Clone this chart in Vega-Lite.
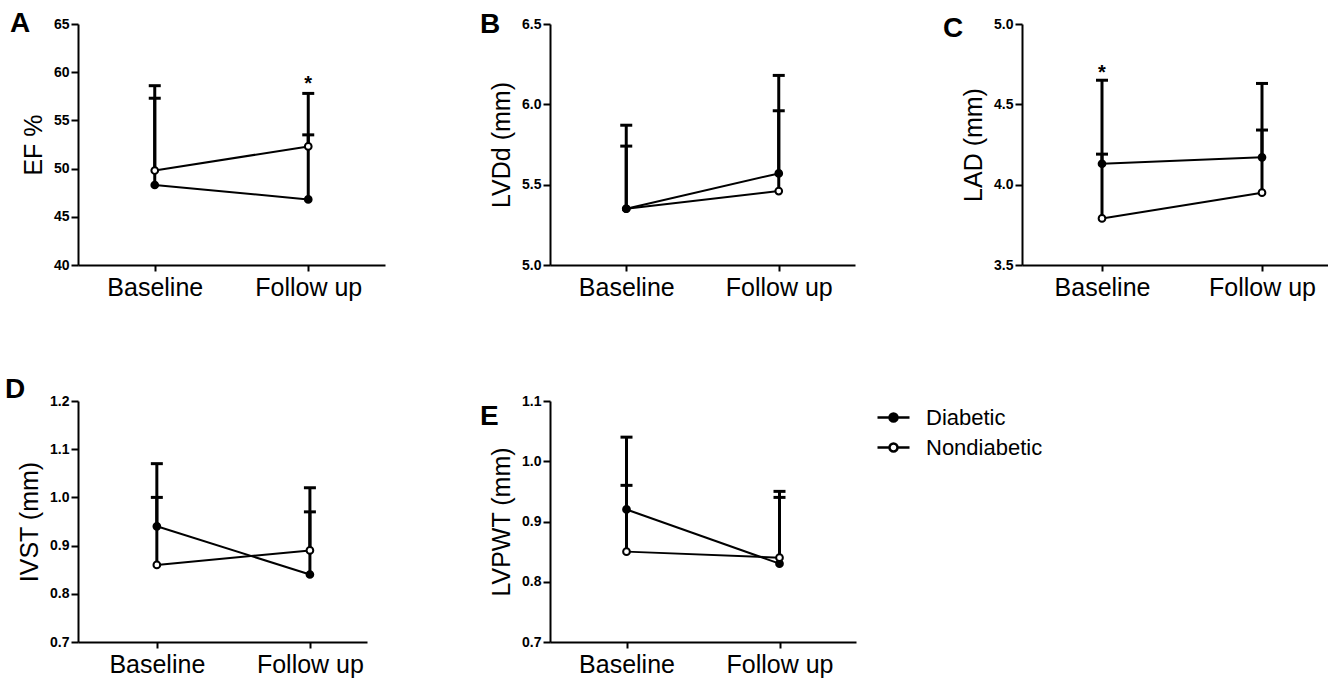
{
  "$schema": "https://vega.github.io/schema/vega-lite/v6.json",
  "background": "white",
  "padding": {"left": 5, "top": 10, "right": 5, "bottom": 3},
  "columns": 3,
  "spacing": {"row": 136, "column": 152},
  "bounds": "flush",
  "align": "all",
  "resolve": {"scale": {"fill": "independent"}, "legend": {"fill": "independent"}},
  "datasets": {
    "main": [
      {"panel": "A", "group": "Diabetic", "time": "Baseline", "mean": 48.3, "upper": 57.3},
      {"panel": "A", "group": "Diabetic", "time": "Follow up", "mean": 46.8, "upper": 53.5},
      {"panel": "A", "group": "Nondiabetic", "time": "Baseline", "mean": 49.8, "upper": 58.6},
      {"panel": "A", "group": "Nondiabetic", "time": "Follow up", "mean": 52.3, "upper": 57.8, "star": 58.2},
      {"panel": "B", "group": "Nondiabetic", "time": "Baseline", "mean": 5.35, "upper": 5.74},
      {"panel": "B", "group": "Nondiabetic", "time": "Follow up", "mean": 5.46, "upper": 5.96},
      {"panel": "B", "group": "Diabetic", "time": "Baseline", "mean": 5.35, "upper": 5.87},
      {"panel": "B", "group": "Diabetic", "time": "Follow up", "mean": 5.57, "upper": 6.18},
      {"panel": "C", "group": "Diabetic", "time": "Baseline", "mean": 4.13, "upper": 4.65, "star": 4.66},
      {"panel": "C", "group": "Diabetic", "time": "Follow up", "mean": 4.17, "upper": 4.63},
      {"panel": "C", "group": "Nondiabetic", "time": "Baseline", "mean": 3.79, "upper": 4.19},
      {"panel": "C", "group": "Nondiabetic", "time": "Follow up", "mean": 3.95, "upper": 4.34},
      {"panel": "D", "group": "Diabetic", "time": "Baseline", "mean": 0.94, "upper": 1.07},
      {"panel": "D", "group": "Diabetic", "time": "Follow up", "mean": 0.84, "upper": 1.02},
      {"panel": "D", "group": "Nondiabetic", "time": "Baseline", "mean": 0.86, "upper": 1.0},
      {"panel": "D", "group": "Nondiabetic", "time": "Follow up", "mean": 0.89, "upper": 0.97},
      {"panel": "E", "group": "Diabetic", "time": "Baseline", "mean": 0.92, "upper": 1.04},
      {"panel": "E", "group": "Diabetic", "time": "Follow up", "mean": 0.83, "upper": 0.95},
      {"panel": "E", "group": "Nondiabetic", "time": "Baseline", "mean": 0.85, "upper": 0.96},
      {"panel": "E", "group": "Nondiabetic", "time": "Follow up", "mean": 0.84, "upper": 0.94}
    ]
  },
  "concat": [
    {
      "width": 307, "height": 241,
      "title": {"text": "A", "dx": -68, "dy": 25},
      "data": {"name": "main"},
      "transform": [{"filter": "datum.panel === 'A'"}],
      "encoding": {
        "x": {"field": "time", "type": "nominal", "scale": {"type": "point", "domain": ["Baseline", "Follow up"], "padding": 0.5}, "axis": {"title": null, "labelAngle": 0}}
      },
      "layer": [
        {"mark": {"type": "rule", "strokeWidth": 3, "color": "black"},
         "encoding": {"y": {"field": "mean", "type": "quantitative", "scale": {"domain": [40, 65], "nice": false, "zero": false}, "axis": {"title": "EF %", "values": [40, 45, 50, 55, 60, 65], "format": "d"}}, "y2": {"field": "upper"}}},
        {"mark": {"type": "tick", "size": 12, "thickness": 3, "color": "black", "opacity": 1},
         "encoding": {"y": {"field": "upper", "type": "quantitative", "scale": {"domain": [40, 65], "nice": false, "zero": false}, "axis": {"title": "EF %", "values": [40, 45, 50, 55, 60, 65], "format": "d"}}}},
        {"mark": {"type": "line", "strokeWidth": 2, "color": "black"},
         "encoding": {"y": {"field": "mean", "type": "quantitative", "scale": {"domain": [40, 65], "nice": false, "zero": false}, "axis": {"title": "EF %", "values": [40, 45, 50, 55, 60, 65], "format": "d"}}, "detail": {"field": "group"}}},
        {"mark": {"type": "point", "shape": "circle", "filled": true, "size": 45, "stroke": "black", "strokeWidth": 2, "opacity": 1},
         "encoding": {"y": {"field": "mean", "type": "quantitative", "scale": {"domain": [40, 65], "nice": false, "zero": false}, "axis": {"title": "EF %", "values": [40, 45, 50, 55, 60, 65], "format": "d"}},
           "fill": {"field": "group", "type": "nominal", "scale": {"domain": ["Diabetic", "Nondiabetic"], "range": ["black", "white"]}, "legend": null}}},
        {"transform": [{"filter": "isValid(datum.star)"}],
         "mark": {"type": "text", "text": "*", "fontSize": 20, "fontWeight": "bold", "baseline": "alphabetic", "align": "center", "color": "black"},
         "encoding": {"y": {"field": "star", "type": "quantitative", "scale": {"domain": [40, 65], "nice": false, "zero": false}, "axis": {"title": "EF %", "values": [40, 45, 50, 55, 60, 65], "format": "d"}}}}
      ]
    },
    {
      "width": 305, "height": 241,
      "title": {"text": "B", "dx": -70, "dy": 26},
      "data": {"name": "main"},
      "transform": [{"filter": "datum.panel === 'B'"}],
      "encoding": {
        "x": {"field": "time", "type": "nominal", "scale": {"type": "point", "domain": ["Baseline", "Follow up"], "padding": 0.5}, "axis": {"title": null, "labelAngle": 0}}
      },
      "layer": [
        {"mark": {"type": "rule", "strokeWidth": 3, "color": "black"},
         "encoding": {"y": {"field": "mean", "type": "quantitative", "scale": {"domain": [5.0, 6.5], "nice": false, "zero": false}, "axis": {"title": "LVDd (mm)", "values": [5.0, 5.5, 6.0, 6.5], "format": ".1f"}}, "y2": {"field": "upper"}}},
        {"mark": {"type": "tick", "size": 12, "thickness": 3, "color": "black", "opacity": 1},
         "encoding": {"y": {"field": "upper", "type": "quantitative", "scale": {"domain": [5.0, 6.5], "nice": false, "zero": false}, "axis": {"title": "LVDd (mm)", "values": [5.0, 5.5, 6.0, 6.5], "format": ".1f"}}}},
        {"mark": {"type": "line", "strokeWidth": 2, "color": "black"},
         "encoding": {"y": {"field": "mean", "type": "quantitative", "scale": {"domain": [5.0, 6.5], "nice": false, "zero": false}, "axis": {"title": "LVDd (mm)", "values": [5.0, 5.5, 6.0, 6.5], "format": ".1f"}}, "detail": {"field": "group"}}},
        {"mark": {"type": "point", "shape": "circle", "filled": true, "size": 45, "stroke": "black", "strokeWidth": 2, "opacity": 1},
         "encoding": {"y": {"field": "mean", "type": "quantitative", "scale": {"domain": [5.0, 6.5], "nice": false, "zero": false}, "axis": {"title": "LVDd (mm)", "values": [5.0, 5.5, 6.0, 6.5], "format": ".1f"}},
           "fill": {"field": "group", "type": "nominal", "scale": {"domain": ["Diabetic", "Nondiabetic"], "range": ["black", "white"]}, "legend": null}}}
      ]
    },
    {
      "width": 320, "height": 241,
      "title": {"text": "C", "dx": -79, "dy": 30},
      "data": {"name": "main"},
      "transform": [{"filter": "datum.panel === 'C'"}],
      "encoding": {
        "x": {"field": "time", "type": "nominal", "scale": {"type": "point", "domain": ["Baseline", "Follow up"], "padding": 0.5}, "axis": {"title": null, "labelAngle": 0}}
      },
      "layer": [
        {"mark": {"type": "rule", "strokeWidth": 3, "color": "black"},
         "encoding": {"y": {"field": "mean", "type": "quantitative", "scale": {"domain": [3.5, 5.0], "nice": false, "zero": false}, "axis": {"title": "LAD (mm)", "values": [3.5, 4.0, 4.5, 5.0], "format": ".1f"}}, "y2": {"field": "upper"}}},
        {"mark": {"type": "tick", "size": 12, "thickness": 3, "color": "black", "opacity": 1},
         "encoding": {"y": {"field": "upper", "type": "quantitative", "scale": {"domain": [3.5, 5.0], "nice": false, "zero": false}, "axis": {"title": "LAD (mm)", "values": [3.5, 4.0, 4.5, 5.0], "format": ".1f"}}}},
        {"mark": {"type": "line", "strokeWidth": 2, "color": "black"},
         "encoding": {"y": {"field": "mean", "type": "quantitative", "scale": {"domain": [3.5, 5.0], "nice": false, "zero": false}, "axis": {"title": "LAD (mm)", "values": [3.5, 4.0, 4.5, 5.0], "format": ".1f"}}, "detail": {"field": "group"}}},
        {"mark": {"type": "point", "shape": "circle", "filled": true, "size": 45, "stroke": "black", "strokeWidth": 2, "opacity": 1},
         "encoding": {"y": {"field": "mean", "type": "quantitative", "scale": {"domain": [3.5, 5.0], "nice": false, "zero": false}, "axis": {"title": "LAD (mm)", "values": [3.5, 4.0, 4.5, 5.0], "format": ".1f"}},
           "fill": {"field": "group", "type": "nominal", "scale": {"domain": ["Diabetic", "Nondiabetic"], "range": ["black", "white"]}, "legend": null}}},
        {"transform": [{"filter": "isValid(datum.star)"}],
         "mark": {"type": "text", "text": "*", "fontSize": 20, "fontWeight": "bold", "baseline": "alphabetic", "align": "center", "color": "black"},
         "encoding": {"y": {"field": "star", "type": "quantitative", "scale": {"domain": [3.5, 5.0], "nice": false, "zero": false}, "axis": {"title": "LAD (mm)", "values": [3.5, 4.0, 4.5, 5.0], "format": ".1f"}}}}
      ]
    },
    {
      "width": 289, "height": 241,
      "title": {"text": "D", "dx": -73, "dy": 14},
      "data": {"name": "main"},
      "transform": [{"filter": "datum.panel === 'D'"}],
      "encoding": {
        "x": {"field": "time", "type": "nominal", "scale": {"type": "point", "domain": ["Baseline", "Follow up"], "padding": 0.444, "align": 0.58}, "axis": {"title": null, "labelAngle": 0}}
      },
      "layer": [
        {"mark": {"type": "rule", "strokeWidth": 3, "color": "black"},
         "encoding": {"y": {"field": "mean", "type": "quantitative", "scale": {"domain": [0.7, 1.2], "nice": false, "zero": false}, "axis": {"title": "IVST (mm)", "values": [0.7, 0.8, 0.9, 1.0, 1.1, 1.2], "format": ".1f"}}, "y2": {"field": "upper"}}},
        {"mark": {"type": "tick", "size": 12, "thickness": 3, "color": "black", "opacity": 1},
         "encoding": {"y": {"field": "upper", "type": "quantitative", "scale": {"domain": [0.7, 1.2], "nice": false, "zero": false}, "axis": {"title": "IVST (mm)", "values": [0.7, 0.8, 0.9, 1.0, 1.1, 1.2], "format": ".1f"}}}},
        {"mark": {"type": "line", "strokeWidth": 2, "color": "black"},
         "encoding": {"y": {"field": "mean", "type": "quantitative", "scale": {"domain": [0.7, 1.2], "nice": false, "zero": false}, "axis": {"title": "IVST (mm)", "values": [0.7, 0.8, 0.9, 1.0, 1.1, 1.2], "format": ".1f"}}, "detail": {"field": "group"}}},
        {"mark": {"type": "point", "shape": "circle", "filled": true, "size": 45, "stroke": "black", "strokeWidth": 2, "opacity": 1},
         "encoding": {"y": {"field": "mean", "type": "quantitative", "scale": {"domain": [0.7, 1.2], "nice": false, "zero": false}, "axis": {"title": "IVST (mm)", "values": [0.7, 0.8, 0.9, 1.0, 1.1, 1.2], "format": ".1f"}},
           "fill": {"field": "group", "type": "nominal", "scale": {"domain": ["Diabetic", "Nondiabetic"], "range": ["black", "white"]}, "legend": null}}}
      ]
    },
    {
      "width": 306, "height": 241,
      "title": {"text": "E", "dx": -70, "dy": 41},
      "data": {"name": "main"},
      "transform": [{"filter": "datum.panel === 'E'"}],
      "encoding": {
        "x": {"field": "time", "type": "nominal", "scale": {"type": "point", "domain": ["Baseline", "Follow up"], "padding": 0.5}, "axis": {"title": null, "labelAngle": 0}}
      },
      "layer": [
        {"mark": {"type": "rule", "strokeWidth": 3, "color": "black"},
         "encoding": {"y": {"field": "mean", "type": "quantitative", "scale": {"domain": [0.7, 1.1], "nice": false, "zero": false}, "axis": {"title": "LVPWT (mm)", "values": [0.7, 0.8, 0.9, 1.0, 1.1], "format": ".1f"}}, "y2": {"field": "upper"}}},
        {"mark": {"type": "tick", "size": 12, "thickness": 3, "color": "black", "opacity": 1},
         "encoding": {"y": {"field": "upper", "type": "quantitative", "scale": {"domain": [0.7, 1.1], "nice": false, "zero": false}, "axis": {"title": "LVPWT (mm)", "values": [0.7, 0.8, 0.9, 1.0, 1.1], "format": ".1f"}}}},
        {"mark": {"type": "line", "strokeWidth": 2, "color": "black"},
         "encoding": {"y": {"field": "mean", "type": "quantitative", "scale": {"domain": [0.7, 1.1], "nice": false, "zero": false}, "axis": {"title": "LVPWT (mm)", "values": [0.7, 0.8, 0.9, 1.0, 1.1], "format": ".1f"}}, "detail": {"field": "group"}}},
        {"mark": {"type": "point", "shape": "circle", "filled": true, "size": 45, "stroke": "black", "strokeWidth": 2, "opacity": 1},
         "encoding": {"y": {"field": "mean", "type": "quantitative", "scale": {"domain": [0.7, 1.1], "nice": false, "zero": false}, "axis": {"title": "LVPWT (mm)", "values": [0.7, 0.8, 0.9, 1.0, 1.1], "format": ".1f"}},
           "fill": {"field": "group", "type": "nominal", "scale": {"domain": ["Diabetic", "Nondiabetic"], "range": ["black", "white"]},
             "legend": {"orient": "none", "legendX": 326, "legendY": -1, "title": null, "padding": 0,
               "symbolType": "M-1,0L-0.25,0M0.25,0L1,0M-0.25,0C-0.25,-0.138 -0.138,-0.25 0,-0.25C0.138,-0.25 0.25,-0.138 0.25,0C0.25,0.138 0.138,0.25 0,0.25C-0.138,0.25 -0.25,0.138 -0.25,0Z",
               "symbolSize": 1024, "symbolStrokeColor": "black", "symbolStrokeWidth": 2.5, "symbolOpacity": 1,
               "labelFont": "Liberation Sans", "labelFontSize": 22, "labelColor": "black", "labelOffset": 15, "rowPadding": 1}}}}
      ]
    }
  ],
  "config": {
    "font": "Liberation Sans",
    "view": {"stroke": null},
    "title": {"font": "Liberation Sans", "fontSize": 28, "fontWeight": "bold", "anchor": "start", "frame": "group", "color": "black", "offset": 0, "baseline": "alphabetic"},
    "axis": {"domainColor": "black", "domainWidth": 2, "tickColor": "black", "tickWidth": 2, "labelColor": "black", "titleColor": "black", "labelFont": "Liberation Sans", "titleFont": "Liberation Sans", "grid": false},
    "axisY": {"labelFontSize": 14, "labelFontWeight": "bold", "tickSize": 7, "labelPadding": 2, "titleFontSize": 25, "titleFontWeight": "normal", "titlePadding": 7},
    "axisX": {"labelFontSize": 25, "labelFontWeight": "normal", "tickSize": 6, "labelPadding": 4, "labelAngle": 0}
  }
}
